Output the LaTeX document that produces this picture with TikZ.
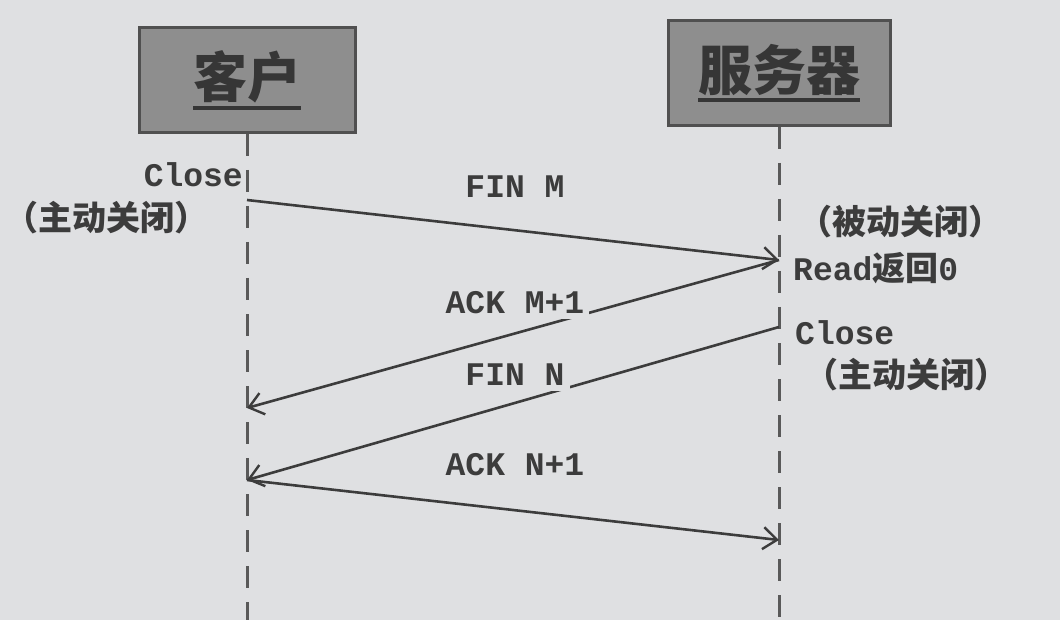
\documentclass[tikz,border=0pt]{standalone}
\usepackage{fontspec}
\setmainfont{Liberation Mono}
\newfontfamily\cjk{Noto Sans CJK SC}
\usetikzlibrary{arrows.meta}
\definecolor{bg}{HTML}{DFE0E2}
\definecolor{boxfill}{HTML}{8E8E8E}
\definecolor{ink}{HTML}{3C3C3C}
\newcommand\thickul[1]{\vtop{\hbox{#1}\kern3pt\hrule height 3.5pt}}
\tikzset{
  actor/.style={draw=ink!90, line width=3pt, fill=boxfill, minimum height=105pt, text=ink!90!black,
    font=\cjk\bfseries\fontsize{54}{54}\selectfont},
  life/.style={draw=ink!85, line width=3pt, dash pattern=on 22pt off 14pt},
  msg/.style={draw=ink, line width=2.6pt, -{Straight Barb[length=14pt,width=22pt,line width=2.4pt]}},
  msglabel/.style={fill=bg, text=ink, inner sep=5pt, font=\bfseries\fontsize{33}{33}\selectfont},
  note/.style={text=ink, inner sep=0pt, font=\bfseries\fontsize{33}{33}\selectfont},
  cjknote/.style={text=ink, inner sep=0pt, font=\cjk\bfseries\fontsize{34}{34}\selectfont}
}
\begin{document}
\begin{tikzpicture}[x=1pt,y=-1pt]
\fill[bg] (0,0) rectangle (1060,620);
\useasboundingbox (0,0) rectangle (1060,620);

\node[actor, minimum width=216pt] (client) at (247,80) {\thickul{客户}};
\node[actor, minimum width=222pt] (server) at (779,73) {\thickul{服务器}};

\coordinate (cend) at (247,620);
\coordinate (send) at (779,620);
\draw[life] (client.south) -- (cend);
\draw[life] (server.south) -- (send);

\coordinate (c1) at (247,200);
\coordinate (s1) at (779,260);
\coordinate (c2) at (247,408);
\coordinate (s2) at (779,327);
\coordinate (c3) at (247,480);
\coordinate (s3) at (779,540);

\draw[msg] (c1) -- (s1);
\draw[msg] (s1) -- (c2);
\draw[msg] (s2) -- (c3);
\draw[msg] (c3) -- (s3);

\node[msglabel] (l1) at (515,187) {FIN M};
\node[msglabel] (l2) at (515,303) {ACK M+1};
\node[msglabel] (l3) at (515,375) {FIN N};
\node[msglabel] (l4) at (515,465) {ACK N+1};

\node[note, anchor=east] (cclose) at (243,175) {Close};
\node[cjknote, anchor=west] (cactive) at (4,218) {（主动关闭）};
\node[cjknote, anchor=west] (spassive) at (798,222) {（被动关闭）};
\node[note, anchor=west] (sread) at (793,268) {Read{\cjk\bfseries 返回}0};
\node[note, anchor=west] (sclose) at (795,333) {Close};
\node[cjknote, anchor=west] (sactive) at (804,375) {（主动关闭）};
\end{tikzpicture}
\end{document}
